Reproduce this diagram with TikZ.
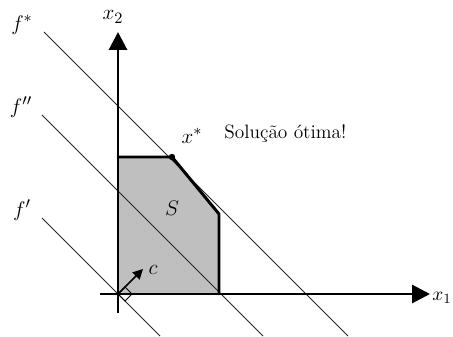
\documentclass[tikz,border=0pt]{standalone}
\usepackage{amsmath,amssymb}
\usepackage{xcolor}
\usetikzlibrary{arrows.meta, calc}

\tikzset{
    axisline/.style={line width=1.7pt, -{Triangle[length=0.36cm, width=0.36cm]}},
    levelline/.style={line width=0.5pt, black!85},
    borderline/.style={line width=1.7pt, line cap=round, line join=round},
    lbl/.style={font=\fontsize{13}{15}\selectfont, inner sep=0pt}
}

\begin{document}
\begin{tikzpicture}[x=0.02cm, y=-0.02cm]

    % --- 1. FRAME (pixel grid of the sketch) ---
    \useasboundingbox (0,0) rectangle (453,337);

    % --- 2. PARAMETERS ---
    \def\oX{118}   % origin
    \def\oY{294}
    \def\xR{219}   % right edge of S
    \def\yT{157}   % top edge of S
    \def\xStar{172} % optimal vertex

    \coordinate (O)  at (\oX, \oY);
    \coordinate (A)  at (\oX, \yT);
    \coordinate (xs) at (\xStar, \yT);
    \coordinate (B)  at (\xR, 214);
    \coordinate (C)  at (\xR, \oY);

    % --- 3. FEASIBLE REGION S ---
    \fill[black!25] (O) -- (A) -- (xs) -- (B) -- (C) -- cycle;

    % --- 4. LEVEL LINES f', f'', f* ---
    \draw[levelline] (44,32) -- (348,336);
    \draw[levelline] (42,115) -- (263,336);
    \draw[levelline] (42,218) -- (160,336);

    % --- 5. BORDER OF S ---
    \draw[borderline] (A) -- (xs) -- (B) -- (C);
    \fill (xs) circle (3.2);

    % --- 6. AXES ---
    \draw[axisline] (100,\oY) -- (430,\oY);
    \draw[axisline] (\oX,313) -- (\oX,32);

    % --- 7. GRADIENT c (normal to the level lines) ---
    \draw[line width=0.9pt, -{Triangle[length=0.2cm, width=0.2cm]}] (O) -- (143,269);
    \draw[line width=0.5pt] (O) -- ++(7,-7) -- ++(7,7) -- ++(-7,7) -- cycle;

    % --- 8. LABELS ---
    \node[lbl] (fstar) at (22,25)  {$f^{*}$};
    \node[lbl] (fdd)   at (21,107) {$f''$};
    \node[lbl] (fd)    at (22,210) {$f'$};
    \node[lbl] (xtwo)  at (113,17) {$x_2$};
    \node[font=\fontsize{11}{13}\selectfont, inner sep=0pt, anchor=east] (xone) at (452,298) {$x_1$};
    \node[lbl] (xopt)  at (192,136) {$x^{*}$};
    \node[lbl] (sset)  at (172,208) {$S$};
    \node[lbl] (cvec)  at (153,270) {$c$};
    \node[font=\fontsize{11}{13}\selectfont, anchor=west, inner sep=0pt] (sol) at (224,134) {Solução ótima!};

\end{tikzpicture}
\end{document}
